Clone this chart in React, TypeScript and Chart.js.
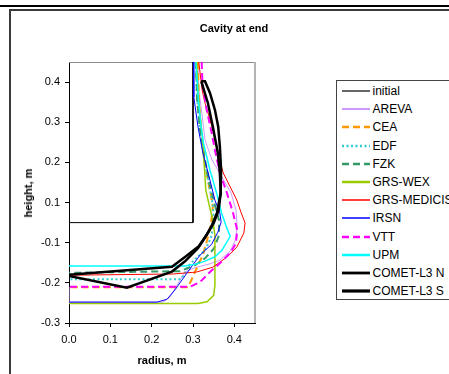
import React, { useEffect, useRef } from "react";
import { Chart, registerables } from "chart.js";

Chart.register(...registerables);

// ---------- data ----------
const xTickValues = [0, 0.1, 0.2, 0.3, 0.4];
const xTickLabels = ["0.0", "0.1", "0.2", "0.3", "0.4"];
const yTickValues = [-0.25, -0.15, -0.05, 0.05, 0.15, 0.25, 0.35];
const yTickLabels = ["-0.3", "-0.2", "-0.1", "0.1", "0.2", "0.3", "0.4"];

const seriesNames = [
  "initial", "AREVA", "CEA", "EDF", "FZK", "GRS-WEX", "GRS-MEDICIS",
  "IRSN", "VTT", "UPM", "COMET-L3 N", "COMET-L3 S",
];

const initialX = [0.3, 0.3, 0];
const initialY = [0.4, 0, 0];

const arevaX = [0.312, 0.314, 0.322, 0.329, 0.346, 0.37, 0.392, 0.404, 0.407, 0.402, 0.39, 0.365, 0.336, 0.305, 0.28, 0.261, 0.244, 0.227, 0, 0];
const arevaY = [0.4, 0.331, 0.269, 0.206, 0.156, 0.114, 0.074, 0.031, -0.011, -0.044, -0.071, -0.094, -0.104, -0.112, -0.123, -0.156, -0.186, -0.198, -0.198, -0.16];

const ceaX = [0.312, 0.314, 0.319, 0.327, 0.336, 0.343, 0.348, 0.343, 0.334, 0.324, 0.31, 0.297, 0.288, 0];
const ceaY = [0.4, 0.306, 0.231, 0.156, 0.106, 0.069, 0.039, -0.006, -0.044, -0.081, -0.111, -0.141, -0.161, -0.161];

const edfX = [0.307, 0.31, 0.317, 0.327, 0.339, 0.348, 0.351, 0.343, 0.329, 0.307, 0.288, 0.278, 0.268, 0];
const edfY = [0.4, 0.306, 0.231, 0.156, 0.094, 0.044, 0.001, -0.039, -0.069, -0.089, -0.109, -0.131, -0.141, -0.141];

const fzkX = [0.307, 0.31, 0.317, 0.329, 0.341, 0.353, 0.363, 0.363, 0.351, 0.329, 0.305, 0.268, 0];
const fzkY = [0.4, 0.306, 0.231, 0.156, 0.094, 0.044, 0.006, -0.031, -0.064, -0.089, -0.106, -0.121, -0.125];

const grsWexX = [0.309, 0.312, 0.317, 0.322, 0.325, 0.328, 0.331, 0.339, 0.348, 0.353, 0.353, 0.35, 0.334, 0.312, 0];
const grsWexY = [0.4, 0.331, 0.269, 0.219, 0.181, 0.131, 0.081, 0.044, 0.006, -0.031, -0.156, -0.181, -0.197, -0.2015, -0.2015];

const grsMedicisX = [0.314, 0.322, 0.329, 0.346, 0.36, 0.373, 0.39, 0.406, 0.416, 0.426, 0.423, 0.406, 0.382, 0.348, 0.309, 0.252, 0];
const grsMedicisY = [0.4, 0.331, 0.298, 0.239, 0.174, 0.124, 0.089, 0.056, 0.026, -0.001, -0.026, -0.061, -0.086, -0.111, -0.123, -0.128, -0.131];

const irsnX = [0.301, 0.302, 0.312, 0.324, 0.341, 0.353, 0.365, 0.368, 0.36, 0.345, 0.317, 0.285, 0.256, 0.237, 0.213, 0];
const irsnY = [0.4, 0.313, 0.239, 0.174, 0.106, 0.056, 0.024, 0.001, -0.024, -0.054, -0.081, -0.126, -0.168, -0.191, -0.198, -0.198];

const vttX = [0.321, 0.323, 0.333, 0.345, 0.353, 0.365, 0.382, 0.397, 0.407, 0.404, 0.39, 0.365, 0.341, 0.317, 0.293, 0];
const vttY = [0.4, 0.343, 0.281, 0.224, 0.181, 0.124, 0.074, 0.024, -0.019, -0.051, -0.076, -0.101, -0.123, -0.148, -0.16, -0.16];

const upmX = [0.307, 0.31, 0.313, 0.319, 0.325, 0.341, 0.357, 0.369, 0.382, 0.39, 0.37, 0.353, 0.329, 0.305, 0.28, 0];
const upmY = [0.4, 0.356, 0.306, 0.244, 0.199, 0.131, 0.074, 0.024, -0.014, -0.034, -0.069, -0.085, -0.096, -0.104, -0.108, -0.108];

const cometNX = [0.32, 0.336, 0.348, 0.36, 0.365, 0.367, 0.362, 0.351, 0.336, 0.314, 0.283, 0.249, 0];
const cometNY = [0.352, 0.298, 0.239, 0.174, 0.124, 0.074, 0.031, 0.001, -0.026, -0.059, -0.084, -0.11, -0.13];

const cometSX = [0.32, 0.329, 0.341, 0.353, 0.361, 0.365, 0.368, 0.367, 0.358, 0.346, 0.331, 0.312, 0.28, 0.249, 0.14, 0];
const cometSY = [0.352, 0.352, 0.323, 0.281, 0.239, 0.189, 0.131, 0.074, 0.024, -0.006, -0.034, -0.064, -0.097, -0.122, -0.162, -0.133];

const seriesX = [initialX, arevaX, ceaX, edfX, fzkX, grsWexX, grsMedicisX, irsnX, vttX, upmX, cometNX, cometSX];
const seriesY = [initialY, arevaY, ceaY, edfY, fzkY, grsWexY, grsMedicisY, irsnY, vttY, upmY, cometNY, cometSY];

// ---------- styles ----------
const seriesStyles = [
  { color: "#000000", width: 1, dash: [] as number[], legendWidth: 1.2 },
  { color: "#cc99ff", width: 1, dash: [], legendWidth: 2 },
  { color: "#ff9900", width: 2, dash: [7, 4], legendWidth: 2.5 },
  { color: "#33cccc", width: 2, dash: [2, 2.5], legendWidth: 2.5 },
  { color: "#339966", width: 2, dash: [7, 4], legendWidth: 2.5 },
  { color: "#99cc00", width: 1.5, dash: [], legendWidth: 2.5 },
  { color: "#ff0000", width: 1, dash: [], legendWidth: 1.5 },
  { color: "#0000ff", width: 1, dash: [], legendWidth: 1.5 },
  { color: "#ff00ff", width: 2, dash: [7, 4], legendWidth: 2.5 },
  { color: "#00ffff", width: 1.5, dash: [], legendWidth: 2.5 },
  { color: "#000000", width: 2.5, dash: [], legendWidth: 2.8 },
  { color: "#000000", width: 2.5, dash: [], legendWidth: 3.2 },
];

const FONT = "'Liberation Sans', Arial, sans-serif";

const plotBorder = {
  id: "plotBorder",
  beforeDatasetsDraw(chart: any) {
    const { ctx, chartArea } = chart;
    ctx.save();
    ctx.strokeStyle = "#8c8c8c";
    ctx.lineWidth = 1;
    ctx.beginPath();
    ctx.moveTo(chartArea.left, chartArea.top + 0.5);
    ctx.lineTo(chartArea.right, chartArea.top + 0.5);
    ctx.stroke();
    ctx.strokeStyle = "#b4b4b4";
    ctx.lineWidth = 2;
    ctx.beginPath();
    ctx.moveTo(chartArea.right, chartArea.top);
    ctx.lineTo(chartArea.right, chartArea.bottom);
    ctx.stroke();
    ctx.restore();
  },
};

export default function App() {
  const canvasRef = useRef<HTMLCanvasElement | null>(null);

  useEffect(() => {
    if (!canvasRef.current) return;
    const datasets = seriesNames.map((name, i) => ({
      label: name,
      data: seriesX[i].map((x, j) => ({ x, y: seriesY[i][j] })),
      showLine: true,
      borderColor: seriesStyles[i].color,
      backgroundColor: seriesStyles[i].color,
      borderWidth: seriesStyles[i].width,
      borderDash: seriesStyles[i].dash,
      pointRadius: 0,
      pointHoverRadius: 0,
      tension: 0,
      fill: false,
      order: seriesNames.length - i,
    }));
    const chart = new Chart(canvasRef.current, {
      type: "scatter",
      data: { datasets },
      plugins: [plotBorder],
      options: {
        animation: false,
        responsive: false,
        devicePixelRatio: 1,
        layout: { padding: { left: 0, top: 62, right: 194, bottom: 21 } },
        plugins: { legend: { display: false }, tooltip: { enabled: false }, title: { display: false } },
        scales: {
          x: {
            type: "linear",
            min: 0,
            max: 0.45,
            afterBuildTicks: (scale: any) => {
              scale.ticks = xTickValues.map((v) => ({ value: v }));
            },
            afterFit: (scale: any) => {
              scale.height = 30;
            },
            ticks: {
              autoSkip: false,
              maxRotation: 0,
              padding: 6,
              color: "#000",
              font: { family: FONT, size: 11 },
              callback: (_v: any, i: number) => xTickLabels[i],
            },
            grid: { drawOnChartArea: false, drawTicks: true, tickLength: 4, color: "#000" },
            border: { display: true, color: "#000", width: 1 },
          },
          y: {
            type: "linear",
            min: -0.25,
            max: 0.4,
            afterBuildTicks: (scale: any) => {
              scale.ticks = yTickValues.map((v) => ({ value: v }));
            },
            afterFit: (scale: any) => {
              scale.width = 69;
            },
            ticks: {
              autoSkip: false,
              padding: 5,
              color: "#000",
              font: { family: FONT, size: 11 },
              callback: (_v: any, i: number) => yTickLabels[i],
            },
            grid: { drawOnChartArea: false, drawTicks: true, tickLength: 4, color: "#000" },
            border: { display: true, color: "#000", width: 1 },
          },
        },
      },
    });
    return () => chart.destroy();
  }, []);

  const abs: React.CSSProperties = { position: "absolute" };

  return (
    <div
      style={{
        position: "fixed",
        left: 0,
        top: 0,
        width: 449,
        height: 374,
        overflow: "hidden",
        background: "#fff",
        fontFamily: FONT,
      }}
    >
      <div style={{ ...abs, left: 0, top: 5, width: 449, height: 2, background: "#000" }} />
      <div
        style={{
          ...abs,
          left: 9,
          top: 9,
          width: 600,
          height: 600,
          borderLeft: "2px solid #3a3a3a",
          borderTop: "2px solid #3a3a3a",
        }}
      />
      <canvas ref={canvasRef} width={449} height={374} style={{ ...abs, left: 0, top: 0, display: "block" }} />
      <div
        style={{
          ...abs,
          left: 234,
          top: 28,
          transform: "translate(-50%, -50%)",
          fontWeight: "bold",
          fontSize: 11,
          whiteSpace: "nowrap",
        }}
      >
        Cavity at end
      </div>
      <div
        style={{
          ...abs,
          left: 162,
          top: 360,
          transform: "translate(-50%, -50%)",
          fontWeight: "bold",
          fontSize: 11,
          whiteSpace: "nowrap",
        }}
      >
        radius, m
      </div>
      <div
        style={{
          ...abs,
          left: 28,
          top: 193,
          transform: "translate(-50%, -50%) rotate(-90deg)",
          fontWeight: "bold",
          fontSize: 11,
          whiteSpace: "nowrap",
        }}
      >
        height, m
      </div>
      <div
        style={{
          ...abs,
          left: 336,
          top: 80,
          width: 140,
          height: 218,
          border: "1.5px solid #444",
          background: "#fff",
        }}
      >
        {seriesNames.map((name, i) => {
          const st = seriesStyles[i];
          const cy = 10 + i * 18.2;
          return (
            <div key={name} style={{ ...abs, left: 0, top: cy - 8, height: 16, width: 140 }}>
              <svg width={30} height={16} style={{ ...abs, left: 4, top: 0 }}>
                <line
                  x1={1}
                  y1={8}
                  x2={29}
                  y2={8}
                  stroke={st.color}
                  strokeWidth={st.legendWidth}
                  strokeDasharray={st.dash.length ? st.dash.join(",") : undefined}
                />
              </svg>
              <div
                style={{
                  ...abs,
                  left: 35.5,
                  top: 0,
                  height: 16,
                  lineHeight: "16px",
                  fontSize: 12,
                  whiteSpace: "nowrap",
                  color: "#000",
                }}
              >
                {name}
              </div>
            </div>
          );
        })}
      </div>
    </div>
  );
}
